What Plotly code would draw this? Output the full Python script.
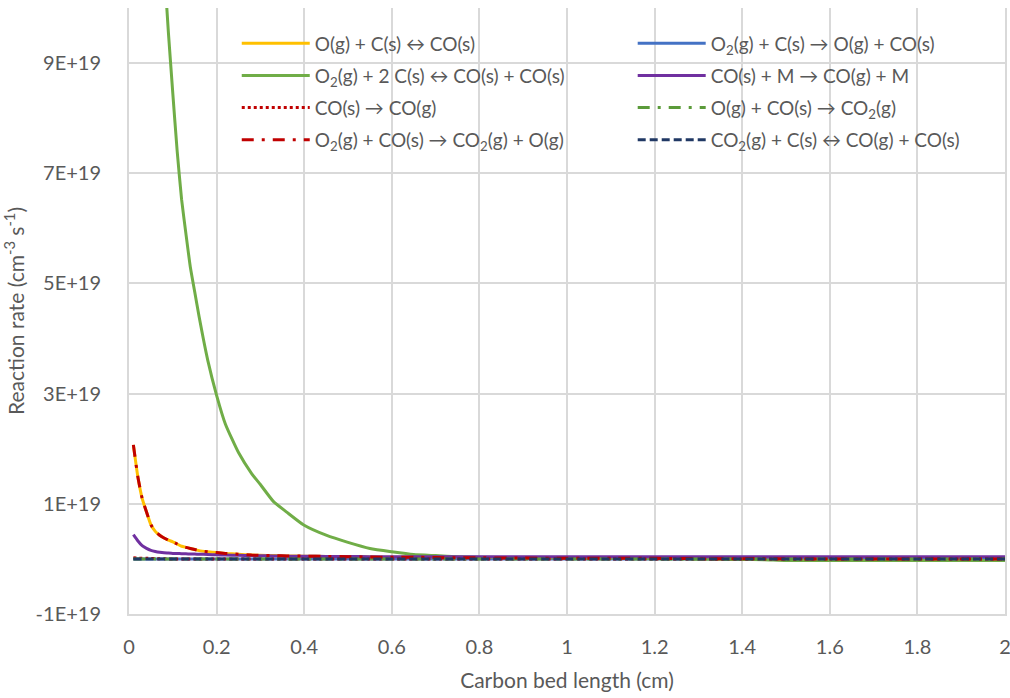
import plotly.graph_objects as go

# ---- data (reaction rates in units of 1E19 cm^-3 s^-1) ----
RATE_UNIT = 1e19
x_cm = [0.01, 0.02, 0.03, 0.04, 0.05, 0.06, 0.07, 0.08, 0.09, 0.10,
        0.11, 0.12, 0.13, 0.14, 0.15, 0.16, 0.18, 0.20, 0.22, 0.25,
        0.28, 0.30, 0.33, 0.36, 0.40, 0.45, 0.50, 0.55, 0.60, 0.65,
        0.70, 0.75, 0.80, 0.90, 1.00, 1.10, 1.20, 1.30, 1.40, 1.45,
        1.50, 1.60, 1.70, 1.80, 1.90, 2.00]

o_c_co = [2.07, 1.50, 1.10, 0.85, 0.62, 0.50, 0.43, 0.38, 0.34, 0.31,
          0.27, 0.23, 0.21, 0.19, 0.17, 0.15, 0.13, 0.115, 0.10, 0.085,
          0.07, 0.065, 0.06, 0.055, 0.05, 0.045, 0.04, 0.035, 0.03, 0.03,
          0.025, 0.02, 0.02, 0.015, 0.01, 0.01, 0.01, 0.005, 0.005, 0.005,
          0.0, 0.0, 0.0, 0.0, 0.0, 0.0]

o2_c_o_co = [0.0] * 46

o2_2c_co_co = [33.0, 27.0, 22.5, 19.0, 16.3, 14.1, 12.3, 10.8, 9.55, 8.45,
               7.4, 6.53, 5.9, 5.3, 4.85, 4.4, 3.6, 2.97, 2.45, 1.93,
               1.55, 1.35, 1.04, 0.85, 0.61, 0.43, 0.30, 0.19, 0.13, 0.08,
               0.06, 0.04, 0.03, 0.02, 0.015, 0.01, 0.005, 0.0, -0.01, -0.015,
               -0.03, -0.03, -0.03, -0.03, -0.03, -0.03]

co_m_co_m = [0.44, 0.33, 0.24, 0.19, 0.155, 0.135, 0.12, 0.11, 0.105, 0.10,
             0.098, 0.095, 0.092, 0.09, 0.088, 0.085, 0.08, 0.075, 0.07, 0.065,
             0.06, 0.058, 0.055, 0.05, 0.05, 0.045, 0.045, 0.04, 0.04, 0.04,
             0.04, 0.04, 0.04, 0.04, 0.04, 0.04, 0.04, 0.04, 0.04, 0.04,
             0.04, 0.04, 0.04, 0.04, 0.04, 0.04]

co_s_co_g = [0.02, 0.015, 0.01, 0.01, 0.01, 0.005, 0.005, 0.005, 0.0, 0.0,
             0.0, 0.0, 0.0, 0.0, 0.0, 0.0, 0.0, 0.0, 0.0, 0.0,
             0.0, 0.0, 0.0, 0.0, 0.0, 0.0, 0.0, 0.0, 0.0, 0.0,
             0.0, 0.0, 0.0, 0.0, 0.0, 0.0, 0.0, 0.0, 0.0, 0.0,
             0.0, 0.0, 0.0, 0.0, 0.0, 0.0]

o_co_co2 = [0.0] * 46

o2_co_co2_o = list(o_c_co)

co2_c_co_co = [0.0] * 46

series_names = [
    "O(g) + C(s) ↔ CO(s)",
    "O<sub>2</sub>(g) + C(s) → O(g) + CO(s)",
    "O<sub>2</sub>(g) + 2 C(s) ↔ CO(s) + CO(s)",
    "CO(s) + M → CO(g) + M",
    "CO(s) → CO(g)",
    "O(g) + CO(s) → CO<sub>2</sub>(g)",
    "O<sub>2</sub>(g) + CO(s) → CO<sub>2</sub>(g) + O(g)",
    "CO<sub>2</sub>(g) + C(s) ↔ CO(g) + CO(s)",
]

y_tick_values = [-1e19, 1e19, 3e19, 5e19, 7e19, 9e19]
y_tick_labels = ["-1E+19", "1E+19", "3E+19", "5E+19", "7E+19", "9E+19"]

# ---- styling ----
FONT = "Lato"
TXT = "#595959"
GRID = "#d9d9d9"

styles = [
    dict(color="#FFC000", width=3, dash="solid", legend="legend"),
    dict(color="#4472C4", width=3, dash="solid", legend="legend2"),
    dict(color="#70AD47", width=3, dash="solid", legend="legend"),
    dict(color="#7030A0", width=3, dash="solid", legend="legend2"),
    dict(color="#C00000", width=3, dash="dot", legend="legend"),
    dict(color="#5B9B3A", width=3, dash="12px,8px,3px,8px", legend="legend2"),
    dict(color="#C00000", width=3, dash="12px,8px,3px,8px", legend="legend"),
    dict(color="#203864", width=3, dash="8px,4px", legend="legend2"),
]

all_series = [o_c_co, o2_c_o_co, o2_2c_co_co, co_m_co_m,
              co_s_co_g, o_co_co2, o2_co_co2_o, co2_c_co_co]

fig = go.Figure()
for i, (name, vals, st) in enumerate(zip(series_names, all_series, styles)):
    fig.add_trace(go.Scatter(
        x=x_cm, y=[v * RATE_UNIT for v in vals], mode="lines", name=name,
        line=dict(color=st["color"], width=st["width"], dash=st["dash"],
                  shape="spline", smoothing=0.5),
        legend=st["legend"], legendgroup=f"g{i}",
    ))

# white panel behind legend (covers gridlines, stays below curves)
fig.add_shape(type="rect", xref="paper", yref="paper",
              x0=0.083, x1=0.989, y0=0.757, y1=0.969,
              fillcolor="white", line_width=0, layer="between")

leg_common = dict(
    bgcolor="rgba(0,0,0,0)", borderwidth=0,
    font=dict(family=FONT, size=19, color=TXT),
    itemwidth=68, tracegroupgap=4.5, orientation="v",
    xanchor="left", yanchor="top", itemclick=False,
)

fig.update_layout(
    width=1010, height=698,
    margin=dict(l=129, r=5, t=8, b=84),
    plot_bgcolor="white", paper_bgcolor="white",
    font=dict(family=FONT, color=TXT),
    legend=dict(x=0.123, y=0.973, **leg_common),
    legend2=dict(x=0.575, y=0.973, **leg_common),
    xaxis=dict(
        range=[0, 2], dtick=0.2, tick0=0,
        showgrid=True, gridcolor=GRID, gridwidth=2,
        showline=True, linecolor=GRID, linewidth=2,
        zeroline=False, automargin=False, ticklabeloverflow="allow",
        ticks="outside", ticklen=14, tickcolor="rgba(0,0,0,0)",
        tickfont=dict(family=FONT, size=20, color=TXT),
        title=dict(text="Carbon bed length (cm)",
                   font=dict(family=FONT, size=21, color=TXT), standoff=16),
    ),
    yaxis=dict(
        range=[-1e19, 1e20],
        tickvals=y_tick_values, ticktext=y_tick_labels,
        showgrid=True, gridcolor=GRID, gridwidth=2,
        showline=True, linecolor=GRID, linewidth=2, mirror=True,
        zeroline=False, automargin=False,
        ticks="outside", ticklen=22, tickcolor="rgba(0,0,0,0)",
        tickfont=dict(family=FONT, size=20, color=TXT),
        title=dict(text="Reaction rate (cm<sup>-3</sup> s<sup>-1</sup>)",
                   font=dict(family=FONT, size=21, color=TXT), standoff=8),
    ),
    showlegend=True,
)

fig.write_html(
    "out.html",
    config={"displayModeBar": False},
    post_script="document.body.style.margin='0px';"
                "document.body.style.overflow='hidden';",
)
